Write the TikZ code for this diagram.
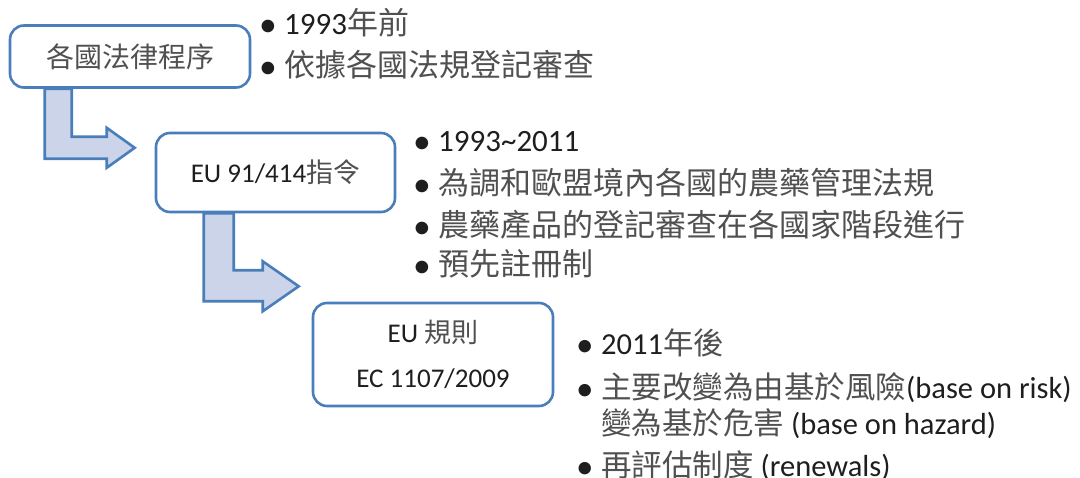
\documentclass[tikz,border=0pt]{standalone}
\usepackage{fontspec}
\setmainfont{Carlito}
\newfontfamily\cjk{Noto Sans CJK TC}
\usepackage{xcolor}
\usepackage{graphicx}
\usetikzlibrary{positioning,backgrounds}

\definecolor{edgeblue}{RGB}{74,126,187}
\definecolor{arrowfill}{RGB}{203,212,232}
\definecolor{inktext}{RGB}{30,30,30}
\definecolor{zhgray}{RGB}{80,80,80}
\newcommand{\zh}[1]{{\cjk\color{zhgray}#1}}
\newcommand{\itm}{\makebox[26pt][l]{\hspace{1pt}\raisebox{-1.5pt}{\scalebox{1.15}{\textbullet}}}}
\newcommand{\itmgap}{\hspace*{26pt}}

\begin{document}
\begin{tikzpicture}[
x=1pt, y=-1pt,
stage/.style={draw=edgeblue, line width=2.6pt, rounded corners=14pt, fill=white, align=center, text=inktext, inner sep=0pt, font=\fontsize{27}{45}\selectfont},
bentarrow/.style={draw=edgeblue, line width=2.6pt, fill=arrowfill, line join=miter},
bulline/.style={anchor=base west, inner sep=0pt, text=inktext, font=\fontsize{31}{40}\selectfont}
]
\useasboundingbox (0,0) rectangle (1080,478);

\node[stage, minimum width=240pt, minimum height=62pt, font=\fontsize{28}{34}\selectfont] (lawbox) at (130,56.5) {\zh{各國法律程序}};
\node[stage, minimum width=239pt, minimum height=79pt] (dirbox) at (275.5,172.5) {EU 91/414\zh{指令}};
\node[stage, minimum width=240pt, minimum height=103pt] (regbox) at (433,354.5) {EU \zh{規則}\\EC 1107/2009};

% before 1993
\node[bulline] (pre1) at (258,35) {\itm 1993\zh{年前}};
\node[bulline] (pre2) at (258,77) {\itm \zh{依據各國法規登記審查}};

% directive
\node[bulline] (dir1) at (412,152) {\itm 1993\textasciitilde 2011};
\node[bulline] (dir2) at (412,195) {\itm \zh{為調和歐盟境內各國的農藥管理法規}};
\node[bulline] (dir3) at (412,237) {\itm \zh{農藥產品的登記審查在各國家階段進行}};
\node[bulline] (dir4) at (412,276) {\itm \zh{預先註冊制}};

% regulation
\node[bulline, font=\fontsize{30.5}{40}\selectfont] (reg1) at (575,355) {\itm 2011\zh{年後}};
\node[bulline, font=\fontsize{30.5}{40}\selectfont] (reg2) at (575,399) {\itm \zh{主要改變為由基於風險}(base on risk)};
\node[bulline, font=\fontsize{30.5}{40}\selectfont] (reg3) at (575,435) {\itmgap\zh{變為基於危害} (base on hazard)};
\node[bulline, font=\fontsize{30.5}{40}\selectfont] (reg4) at (575,477) {\itm \zh{再評估制度} (renewals)};

\begin{scope}[on background layer]
\draw[bentarrow] ([xshift=36pt]lawbox.south west) -- ++(27,0) -- ++(0,48) -- ++(35,0) -- ++(0,-9)
  -- ++(28,20) -- ++(-28,20) -- ++(0,-9) -- ++(-62,0) -- cycle;
\draw[bentarrow] ([xshift=49pt]dirbox.south west) -- ++(30,0) -- ++(0,57) -- ++(29,0) -- ++(0,-9)
  -- ++(36,25) -- ++(-36,25) -- ++(0,-10) -- ++(-59,0) -- cycle;
\end{scope}

\end{tikzpicture}
\end{document}
